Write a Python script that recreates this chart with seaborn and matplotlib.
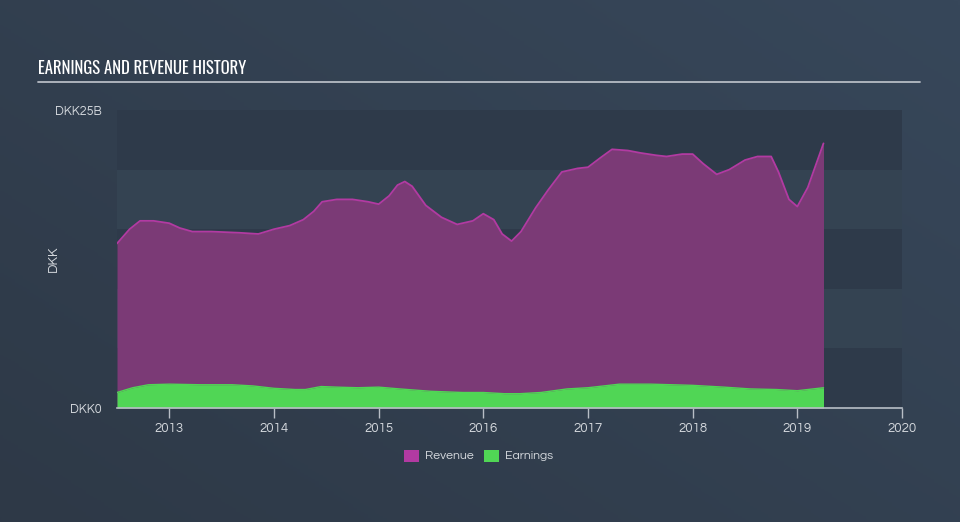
import numpy as np
import pandas as pd
import matplotlib
matplotlib.use("Agg")
import matplotlib.pyplot as plt
import seaborn as sns
from matplotlib.patches import Rectangle

# ---- data (DKK billions) ----
rev_years = [2012.50, 2012.62, 2012.72, 2012.85, 2013.00, 2013.10, 2013.22, 2013.40, 2013.67, 2013.85,
             2014.00, 2014.15, 2014.28, 2014.38, 2014.46, 2014.60, 2014.75, 2014.90, 2015.00, 2015.10,
             2015.18, 2015.25, 2015.32, 2015.45, 2015.60, 2015.75, 2015.90, 2016.00, 2016.10, 2016.18,
             2016.27, 2016.36, 2016.50, 2016.62, 2016.75, 2016.90, 2017.00, 2017.12, 2017.23, 2017.38,
             2017.50, 2017.65, 2017.75, 2017.90, 2018.00, 2018.10, 2018.23, 2018.35, 2018.50, 2018.62,
             2018.75, 2018.82, 2018.92, 2019.00, 2019.10, 2019.25]
revenue = [13.8, 15.0, 15.7, 15.7, 15.5, 15.1, 14.8, 14.8, 14.7, 14.6,
           15.0, 15.3, 15.8, 16.5, 17.3, 17.5, 17.5, 17.3, 17.1, 17.8,
           18.7, 19.0, 18.6, 17.0, 16.0, 15.4, 15.7, 16.3, 15.8, 14.6,
           14.0, 14.8, 16.8, 18.3, 19.8, 20.1, 20.2, 21.0, 21.7, 21.6,
           21.4, 21.2, 21.1, 21.3, 21.3, 20.5, 19.6, 20.0, 20.8, 21.1,
           21.1, 19.8, 17.5, 16.9, 18.5, 22.2]

earn_years = [2012.50, 2012.65, 2012.80, 2013.00, 2013.30, 2013.60, 2013.80, 2014.00, 2014.20, 2014.30,
              2014.45, 2014.60, 2014.80, 2015.00, 2015.20, 2015.50, 2015.80, 2016.00, 2016.20, 2016.35,
              2016.55, 2016.80, 2017.00, 2017.30, 2017.60, 2018.00, 2018.30, 2018.55, 2018.80, 2019.00,
              2019.25]
earnings = [1.30, 1.70, 1.95, 2.00, 1.95, 1.95, 1.85, 1.65, 1.55, 1.55,
            1.80, 1.75, 1.70, 1.75, 1.60, 1.40, 1.30, 1.30, 1.20, 1.20,
            1.30, 1.60, 1.70, 2.00, 2.00, 1.90, 1.75, 1.60, 1.55, 1.45,
            1.70]

x_ticks = [2013, 2014, 2015, 2016, 2017, 2018, 2019, 2020]
y_ticks = [0, 25]
y_tick_labels = ["DKK0", "DKK25B"]

rev_df = pd.DataFrame({"year": rev_years, "value": revenue})
earn_df = pd.DataFrame({"year": earn_years, "value": earnings})

# ---- style ----
sns.set_theme(style="dark")
plt.rcParams["font.family"] = ["Questrial", "Lato", "DejaVu Sans"]

BG = "#323f4e"
REV_FILL = "#7b3a76"
REV_LINE = "#b23aa2"
EARN = "#50d655"
TXT = "#d3d7dc"

fig = plt.figure(figsize=(9.6, 5.22), dpi=100)
fig.patch.set_facecolor(BG)

# subtle background gradient
bgax = fig.add_axes([0, 0, 1, 1], zorder=-10)
gx = np.linspace(0, 1, 256)
gy = np.linspace(0, 1, 256)
GX, GY = np.meshgrid(gx, gy)
grad = 0.55 * GX + 0.45 * (1 - GY)
cmap = matplotlib.colors.LinearSegmentedColormap.from_list("bg", ["#2e3947", "#37475a"])
bgax.imshow(grad, cmap=cmap, aspect="auto", extent=[0, 1, 0, 1], origin="upper")
bgax.set_axis_off()

ax = fig.add_axes([117 / 960, 1 - 408 / 522, 785 / 960, 298 / 522])
ax.set_facecolor("none")
ax.set_xlim(2012.5, 2020.0)
ax.set_ylim(0, 25)

# horizontal bands
band_cols = ["#2e3a4a", "#344352", "#2e3a4a", "#344352", "#2e3a4a"]
for i, c in enumerate(band_cols):
    ax.axhspan(i * 5, (i + 1) * 5, color=c, zorder=0, lw=0)

# revenue
ax.fill_between(rev_df["year"], 0, rev_df["value"], color=REV_FILL, lw=0, zorder=2)
sns.lineplot(data=rev_df, x="year", y="value", ax=ax, color=REV_LINE, lw=1.3, zorder=3)
# earnings
ax.fill_between(earn_df["year"], 0, earn_df["value"], color=EARN, lw=0, zorder=4)
sns.lineplot(data=earn_df, x="year", y="value", ax=ax, color=EARN, lw=1.0, zorder=5)

for s in ["top", "right", "left"]:
    ax.spines[s].set_visible(False)
ax.spines["bottom"].set_color("#b8bec6")
ax.spines["bottom"].set_linewidth(1.2)
ax.spines["bottom"].set_zorder(6)

ax.set_xticks(x_ticks)
ax.set_xticklabels([str(t) for t in x_ticks])
ax.tick_params(axis="x", colors="#b8bec6", length=7, width=1.0, direction="out",
               labelcolor=TXT, labelsize=9.5, pad=3, bottom=True)
ax.set_yticks(y_ticks)
ax.set_yticklabels(y_tick_labels)
ax.tick_params(axis="y", length=0, labelcolor=TXT, labelsize=9, pad=11)
ax.set_xlabel("")
ax.set_ylabel("DKK", color=TXT, fontsize=9.5)
ax.yaxis.set_label_coords((60 - 117) / 785, 0.5)
ax.grid(False)

# title and rule
fig.text(38 / 960, 1 - 68 / 522, "EARNINGS AND REVENUE HISTORY", color="#ffffff",
         fontsize=12, fontweight="medium", va="center", ha="left",
         family=["Oswald", "Bebas Neue", "Roboto Condensed", "Liberation Sans Narrow", "DejaVu Sans"])
fig.add_artist(matplotlib.lines.Line2D([38 / 960, 920 / 960], [1 - 82 / 522, 1 - 82 / 522],
                                       color="#b6bcc4", lw=1.3))

# legend
ly = 1 - 456 / 522
for x0, col, lab in [(404, REV_LINE, "Revenue"), (484, EARN, "Earnings")]:
    fig.add_artist(Rectangle((x0 / 960, ly - 6 / 522), 15 / 960, 12 / 522,
                             transform=fig.transFigure, color=col, lw=0))
    fig.text((x0 + 21) / 960, ly, lab, color=TXT, fontsize=8.8, va="center", ha="left")

fig.savefig("out.png", dpi=100, facecolor=fig.get_facecolor())
